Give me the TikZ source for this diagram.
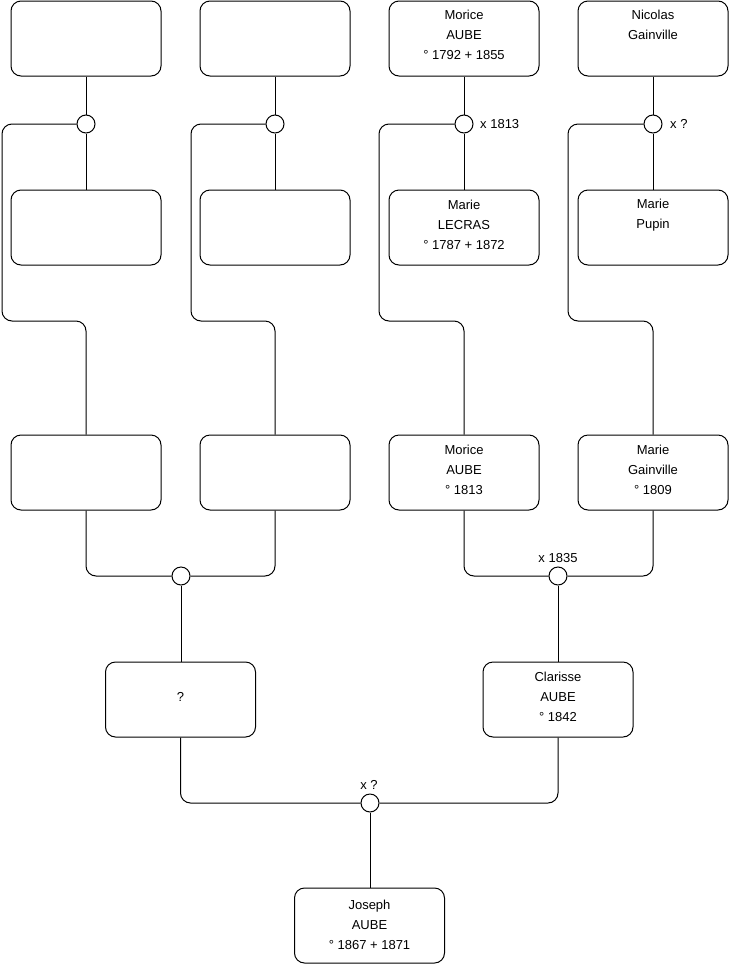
\documentclass[tikz,border=0pt]{standalone}
\usepackage{fontspec}
\setmainfont{Liberation Sans}
\begin{document}
\begin{tikzpicture}[x=1pt,y=-1pt,
  pbox/.style={draw=black,line width=1pt,rounded corners=10pt,minimum width=150pt,minimum height=75pt,inner sep=0pt},
  txt/.style={align=center,font=\fontsize{13}{20}\selectfont,inner sep=0pt},
  wed/.style={draw=black,line width=1pt,circle,minimum size=18pt,inner sep=0pt,fill=white},
  lbl/.style={font=\fontsize{13}{14}\selectfont,inner sep=0pt},
  link/.style={draw=black,line width=1pt,rounded corners=10pt}]
\useasboundingbox (0,0) rectangle (740,975);
% row 1
\node[pbox] (b11) at (86,38.5) {};
\node[pbox] (b12) at (275,38.5) {};
\node[pbox] (b13) at (464,38.5) {};
\node[pbox] (b14) at (653,38.5) {};
\node[txt] (t13) at (464,35) {Morice\\AUBE\\° 1792 + 1855};
\node[txt] (t14) at (653,25) {Nicolas\\Gainville};
% row 2
\node[pbox] (b21) at (86,227.5) {};
\node[pbox] (b22) at (275,227.5) {};
\node[pbox] (b23) at (464,227.5) {};
\node[pbox] (b24) at (653,227.5) {};
\node[txt] (t23) at (464,225) {Marie\\LECRAS\\° 1787 + 1872};
\node[txt] (t24) at (653,215) {Marie\\Pupin};
% row 3
\node[pbox] (b31) at (86,472.5) {};
\node[pbox] (b32) at (275,472.5) {};
\node[pbox] (b33) at (464,472.5) {};
\node[pbox] (b34) at (653,472.5) {};
\node[txt] (t33) at (464,470) {Morice\\AUBE\\° 1813};
\node[txt] (t34) at (653,470) {Marie\\Gainville\\° 1809};
% row 4
\node[pbox] (bq) at (180.5,699.5) {};
\node[pbox] (bc) at (558,699.5) {};
\node[txt] (tq) at (180.5,697) {?};
\node[txt] (tc) at (558,697) {Clarisse\\AUBE\\° 1842};
% row 5
\node[pbox] (bj) at (369.5,925.5) {};
\node[txt] (tj) at (369.5,925) {Joseph\\AUBE\\° 1867 + 1871};
% marriages
\node[wed] (c1) at (86,124) {};
\node[wed] (c2) at (275,124) {};
\node[wed] (c3) at (464,124) {};
\node[wed] (c4) at (653,124) {};
\node[wed] (c5) at (181,576) {};
\node[wed] (c6) at (558,576) {};
\node[wed] (c7) at (370,803) {};
\node[lbl,anchor=west] (l3) at (480,124) {x 1813};
\node[lbl,anchor=west] (l4) at (670,124) {x ?};
\node[lbl] (l6) at (558,558) {x 1835};
\node[lbl] (l7) at (369,785) {x ?};
% connectors
\draw[link] (b11.south) -- (c1.north);
\draw[link] (c1.south) -- (b21.north);
\draw[link] (b12.south) -- (c2.north);
\draw[link] (c2.south) -- (b22.north);
\draw[link] (b13.south) -- (c3.north);
\draw[link] (c3.south) -- (b23.north);
\draw[link] (b14.south) -- (c4.north);
\draw[link] (c4.south) -- (b24.north);
\draw[link] (c1.west) -- (2,124) -- (2,321) -- (86,321) -- (b31.north);
\draw[link] (c2.west) -- (191,124) -- (191,321) -- (275,321) -- (b32.north);
\draw[link] (c3.west) -- (379,124) -- (379,321) -- (464,321) -- (b33.north);
\draw[link] (c4.west) -- (568,124) -- (568,321) -- (653,321) -- (b34.north);
\draw[link] (b31.south) |- (c5.west);
\draw[link] (b32.south) |- (c5.east);
\draw[link] (b33.south) |- (c6.west);
\draw[link] (b34.south) |- (c6.east);
\draw[link] (c5.south) -- (c5.south |- bq.north);
\draw[link] (c6.south) -- (bc.north);
\draw[link] (bq.south) |- (c7.west);
\draw[link] (bc.south) |- (c7.east);
\draw[link] (c7.south) -- (c7.south |- bj.north);
\end{tikzpicture}
\end{document}
